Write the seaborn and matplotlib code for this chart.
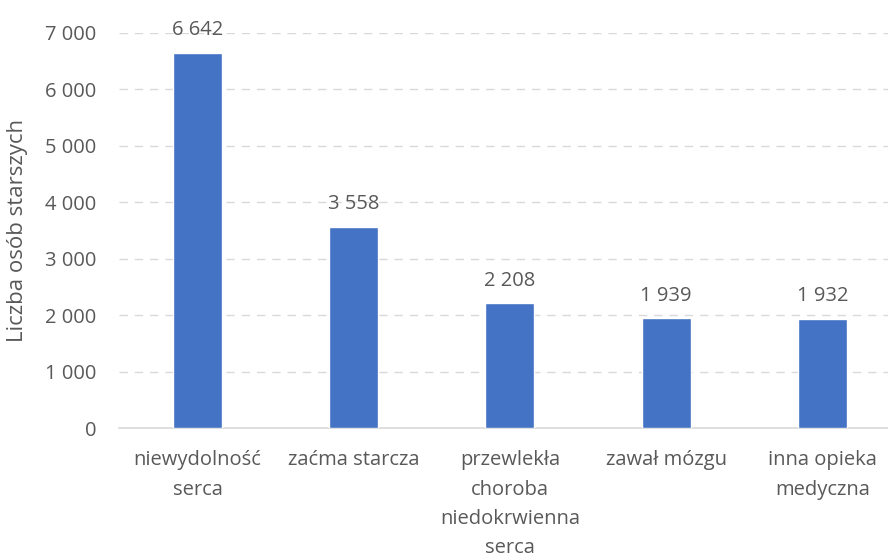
import matplotlib
matplotlib.use("Agg")
import matplotlib.pyplot as plt
import pandas as pd
import seaborn as sns

CATEGORIES = [
    "niewydolność\nserca",
    "zaćma starcza",
    "przewlekła\nchoroba\nniedokrwienna\nserca",
    "zawał mózgu",
    "inna opieka\nmedyczna",
]
VALUES = [6642, 3558, 2208, 1939, 1932]
Y_TICKS = [0, 1000, 2000, 3000, 4000, 5000, 6000, 7000]
Y_LABEL = "Liczba osób starszych"

BAR_COLOR = "#4472C4"
TEXT_COLOR = "#595959"
GRID_COLOR = "#D9D9D9"


def fmt(v):
    return f"{v:,}".replace(",", " ")


def main():
    sns.set_theme(style="white")
    plt.rcParams["font.family"] = ["Open Sans", "DejaVu Sans"]

    df = pd.DataFrame({"category": CATEGORIES, "value": VALUES})

    fig = plt.figure(figsize=(8.88, 5.54), dpi=100)
    # plot area runs slightly past the right edge, as in the source image
    ax = fig.add_axes([0.1345, 0.2274, 0.8795, 0.7139])

    sns.barplot(data=df, x="category", y="value", color=BAR_COLOR,
                width=0.314, saturation=1, ax=ax, zorder=3)

    ax.set_ylim(0, 7000)
    ax.set_yticks(Y_TICKS)
    ax.set_yticklabels([fmt(t) for t in Y_TICKS])
    ax.yaxis.grid(True, color=GRID_COLOR, linestyle=(0, (6, 5)), linewidth=1, zorder=0)
    ax.set_axisbelow(True)

    for side in ["top", "right", "left"]:
        ax.spines[side].set_visible(False)
    ax.spines["bottom"].set_color(GRID_COLOR)
    ax.spines["bottom"].set_linewidth(1.2)

    ax.tick_params(axis="both", length=0, colors=TEXT_COLOR, labelsize=14.5)
    ax.tick_params(axis="x", pad=16)
    ax.tick_params(axis="y", pad=16.5)
    for lbl in ax.get_xticklabels():
        lbl.set_linespacing(1.62)
        lbl.set_verticalalignment("top")
    ax.set_xlabel("")
    ax.set_ylabel(Y_LABEL, color=TEXT_COLOR, fontsize=16)
    ax.yaxis.set_label_coords(-0.117, 0.5)

    for i, v in enumerate(VALUES):
        ax.annotate(fmt(v), (i, v), xytext=(0, 9), textcoords="offset points",
                    ha="center", va="bottom", color=TEXT_COLOR, fontsize=14.5)

    fig.savefig("out.png", dpi=100)
    plt.close(fig)


if __name__ == "__main__":
    main()
